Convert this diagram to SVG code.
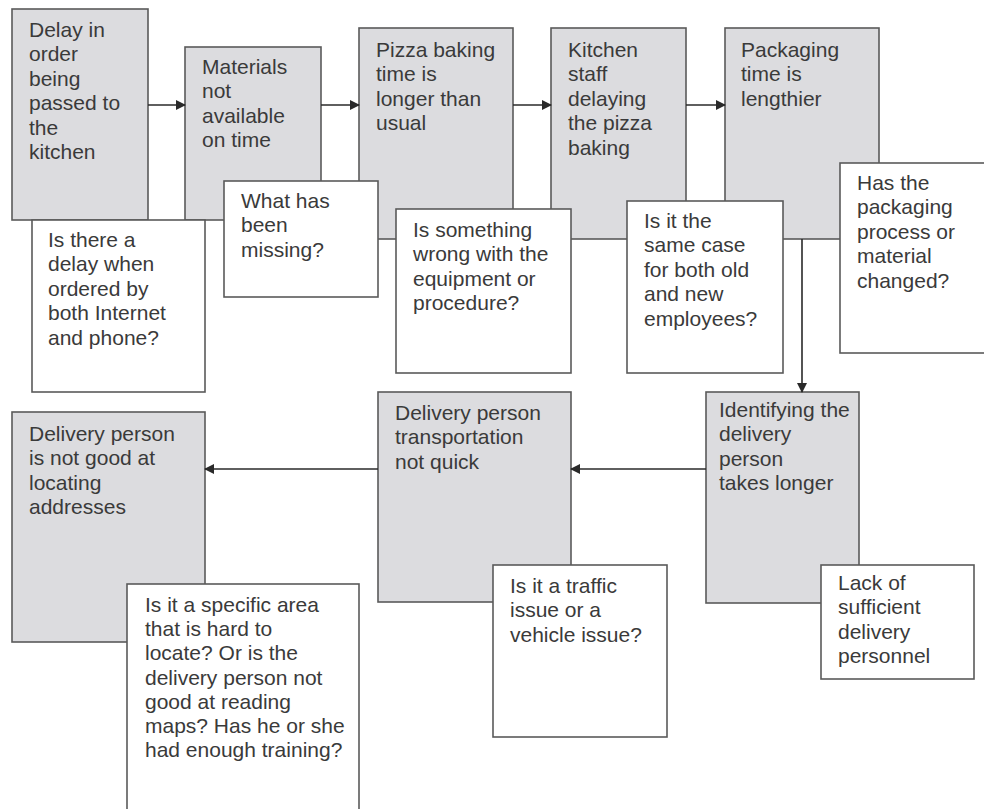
<svg xmlns="http://www.w3.org/2000/svg" width="984" height="809" viewBox="0 0 984 809">
<defs>
<marker id="ah" markerWidth="10" markerHeight="10" refX="9" refY="5" orient="auto" markerUnits="userSpaceOnUse">
<path d="M0,0 L10,5 L0,10 z" fill="#2a2a2a"/>
</marker>
<style>
.g{fill:#dcdcdf;stroke:#5a5a5a;stroke-width:1.6}
.w{fill:#ffffff;stroke:#5a5a5a;stroke-width:1.6}
text{font-family:"Liberation Sans",Arial,sans-serif;font-size:21px;fill:#3a3a3a}
.c{stroke:#2a2a2a;stroke-width:1.6;fill:none;marker-end:url(#ah)}
</style>
</defs>
<rect width="984" height="809" fill="#ffffff"/>
<g id="n1"><rect class="g" x="12" y="9" width="136" height="211"/>
<text x="29" y="37"><tspan x="29">Delay in</tspan><tspan x="29" dy="24.4">order</tspan><tspan x="29" dy="24.4">being</tspan><tspan x="29" dy="24.4">passed to</tspan><tspan x="29" dy="24.4">the</tspan><tspan x="29" dy="24.4">kitchen</tspan></text></g>
<g id="n2"><rect class="g" x="185" y="47" width="136" height="173"/>
<text x="202" y="74"><tspan x="202">Materials</tspan><tspan x="202" dy="24.4">not</tspan><tspan x="202" dy="24.4">available</tspan><tspan x="202" dy="24.4">on time</tspan></text></g>
<g id="n3"><rect class="g" x="359" y="28" width="154" height="211"/>
<text x="376" y="57"><tspan x="376">Pizza baking</tspan><tspan x="376" dy="24.4">time is</tspan><tspan x="376" dy="24.4">longer than</tspan><tspan x="376" dy="24.4">usual</tspan></text></g>
<g id="n4"><rect class="g" x="551" y="28" width="135" height="211"/>
<text x="568" y="57"><tspan x="568">Kitchen</tspan><tspan x="568" dy="24.4">staff</tspan><tspan x="568" dy="24.4">delaying</tspan><tspan x="568" dy="24.4">the pizza</tspan><tspan x="568" dy="24.4">baking</tspan></text></g>
<g id="n5"><rect class="g" x="725" y="28" width="154" height="211"/>
<text x="741" y="57"><tspan x="741">Packaging</tspan><tspan x="741" dy="24.4">time is</tspan><tspan x="741" dy="24.4">lengthier</tspan></text></g>
<g id="n6"><rect class="g" x="706" y="392" width="153" height="211"/>
<text x="719" y="417"><tspan x="719">Identifying the</tspan><tspan x="719" dy="24.4">delivery</tspan><tspan x="719" dy="24.4">person</tspan><tspan x="719" dy="24.4">takes longer</tspan></text></g>
<g id="n7"><rect class="g" x="378" y="392" width="193" height="210"/>
<text x="395" y="420"><tspan x="395">Delivery person</tspan><tspan x="395" dy="24.4">transportation</tspan><tspan x="395" dy="24.4">not quick</tspan></text></g>
<g id="n8"><rect class="g" x="12" y="412" width="193" height="230"/>
<text x="29" y="441"><tspan x="29">Delivery person</tspan><tspan x="29" dy="24.4">is not good at</tspan><tspan x="29" dy="24.4">locating</tspan><tspan x="29" dy="24.4">addresses</tspan></text></g>
<g id="q1"><rect class="w" x="32" y="220" width="173" height="172"/>
<text x="48" y="247"><tspan x="48">Is there a</tspan><tspan x="48" dy="24.4">delay when</tspan><tspan x="48" dy="24.4">ordered by</tspan><tspan x="48" dy="24.4">both Internet</tspan><tspan x="48" dy="24.4">and phone?</tspan></text></g>
<g id="q2"><rect class="w" x="224" y="181" width="154" height="116"/>
<text x="241" y="208"><tspan x="241">What has</tspan><tspan x="241" dy="24.4">been</tspan><tspan x="241" dy="24.4">missing?</tspan></text></g>
<g id="q3"><rect class="w" x="396" y="209" width="175" height="164"/>
<text x="413" y="237"><tspan x="413">Is something</tspan><tspan x="413" dy="24.4">wrong with the</tspan><tspan x="413" dy="24.4">equipment or</tspan><tspan x="413" dy="24.4">procedure?</tspan></text></g>
<g id="q4"><rect class="w" x="627" y="201" width="156" height="172"/>
<text x="644" y="228"><tspan x="644">Is it the</tspan><tspan x="644" dy="24.4">same case</tspan><tspan x="644" dy="24.4">for both old</tspan><tspan x="644" dy="24.4">and new</tspan><tspan x="644" dy="24.4">employees?</tspan></text></g>
<g id="q5"><rect class="w" x="840" y="163" width="150" height="190"/>
<text x="857" y="190"><tspan x="857">Has the</tspan><tspan x="857" dy="24.4">packaging</tspan><tspan x="857" dy="24.4">process or</tspan><tspan x="857" dy="24.4">material</tspan><tspan x="857" dy="24.4">changed?</tspan></text></g>
<g id="q6"><rect class="w" x="821" y="565" width="153" height="114"/>
<text x="838" y="590"><tspan x="838">Lack of</tspan><tspan x="838" dy="24.4">sufficient</tspan><tspan x="838" dy="24.4">delivery</tspan><tspan x="838" dy="24.4">personnel</tspan></text></g>
<g id="q7"><rect class="w" x="493" y="565" width="174" height="172"/>
<text x="510" y="593"><tspan x="510">Is it a traffic</tspan><tspan x="510" dy="24.4">issue or a</tspan><tspan x="510" dy="24.4">vehicle issue?</tspan></text></g>
<g id="q8"><rect class="w" x="127" y="584" width="232" height="240"/>
<text x="145" y="612"><tspan x="145">Is it a specific area</tspan><tspan x="145" dy="24.2">that is hard to</tspan><tspan x="145" dy="24.2">locate? Or is the</tspan><tspan x="145" dy="24.2">delivery person not</tspan><tspan x="145" dy="24.2">good at reading</tspan><tspan x="145" dy="24.2">maps? Has he or she</tspan><tspan x="145" dy="24.2">had enough training?</tspan></text></g>
<g id="connectors">
<line class="c" x1="148" y1="105" x2="185" y2="105"/>
<line class="c" x1="321" y1="105" x2="359" y2="105"/>
<line class="c" x1="513" y1="105" x2="551" y2="105"/>
<line class="c" x1="686" y1="105" x2="725" y2="105"/>
<line class="c" x1="802" y1="239" x2="802" y2="392"/>
<line class="c" x1="706" y1="469" x2="571" y2="469"/>
<line class="c" x1="378" y1="469" x2="205" y2="469"/>
</g>
</svg>
